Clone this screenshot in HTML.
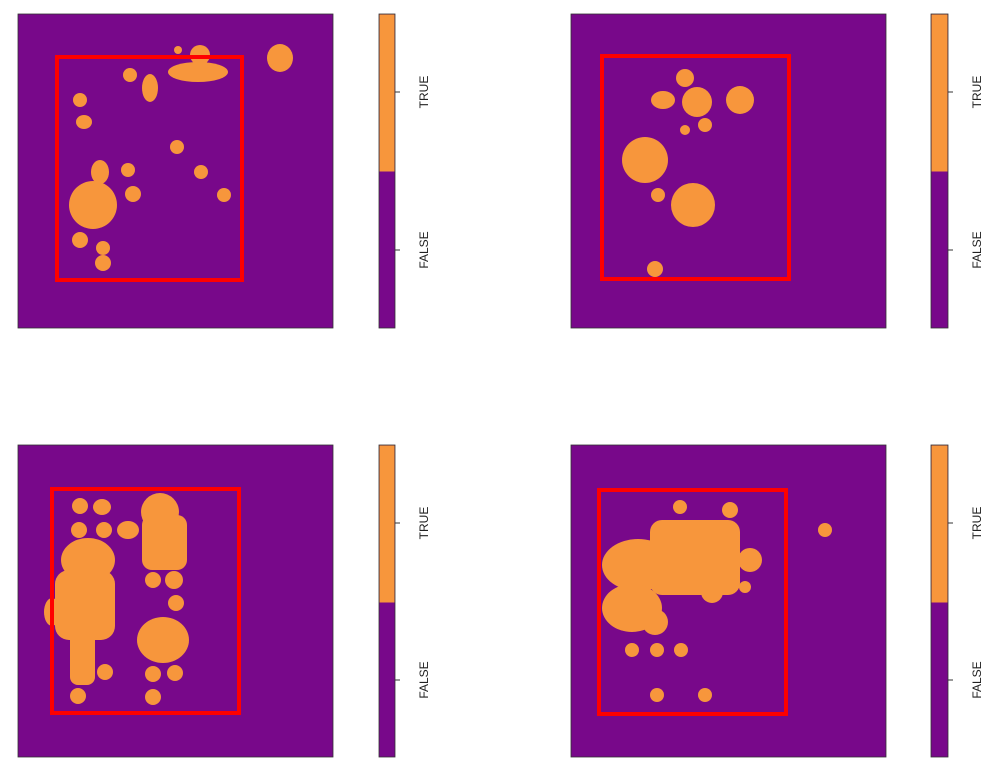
<!DOCTYPE html>
<html><head><style>body{margin:0;background:#fff}svg{display:block}</style></head><body>
<svg width="1000" height="772" xmlns="http://www.w3.org/2000/svg" font-family="Liberation Sans, sans-serif" font-size="12">
<g fill="#78088a" stroke="#333" stroke-width="0.8">
<rect x="18" y="14" width="315" height="314"/>
<rect x="571" y="14" width="315" height="314"/>
<rect x="18" y="445" width="315" height="312"/>
<rect x="571" y="445" width="315" height="312"/>
<rect x="379" y="14" width="16" height="314"/>
<rect x="931" y="14" width="17" height="314"/>
<rect x="379" y="445" width="16" height="312"/>
<rect x="931" y="445" width="17" height="312"/>
</g>
<g fill="#f7963c">
<rect x="379.5" y="14.5" width="15" height="157"/>
<rect x="931.5" y="14.5" width="16" height="157"/>
<rect x="379.5" y="445.5" width="15" height="157"/>
<rect x="931.5" y="445.5" width="16" height="157"/>
<!-- panel 1 -->
<circle cx="93" cy="205" r="24"/><ellipse cx="100" cy="172" rx="9" ry="12"/>
<circle cx="80" cy="100" r="7"/><ellipse cx="84" cy="122" rx="8" ry="7"/><circle cx="130" cy="75" r="7"/>
<circle cx="177" cy="147" r="7"/><circle cx="201" cy="172" r="7"/><circle cx="224" cy="195" r="7"/>
<circle cx="128" cy="170" r="7"/><circle cx="133" cy="194" r="8"/><circle cx="80" cy="240" r="8"/>
<circle cx="103" cy="248" r="7"/><circle cx="103" cy="263" r="8"/>
<ellipse cx="150" cy="88" rx="8" ry="14"/><ellipse cx="198" cy="72" rx="30" ry="10"/><circle cx="200" cy="55" r="10"/>
<circle cx="178" cy="50" r="4"/><ellipse cx="280" cy="58" rx="13" ry="14"/>
<!-- panel 2 -->
<circle cx="645" cy="160" r="23"/><circle cx="685" cy="78" r="9"/><ellipse cx="663" cy="100" rx="12" ry="9"/>
<circle cx="697" cy="102" r="15"/><circle cx="740" cy="100" r="14"/><circle cx="705" cy="125" r="7"/>
<circle cx="693" cy="205" r="22"/><circle cx="658" cy="195" r="7"/><circle cx="655" cy="269" r="8"/><circle cx="685" cy="130" r="5"/>
<!-- panel 3 -->
<circle cx="80" cy="506" r="8"/><ellipse cx="102" cy="507" rx="9" ry="8"/><circle cx="79" cy="530" r="8"/><circle cx="104" cy="530" r="8"/>
<ellipse cx="88" cy="560" rx="27" ry="22"/><rect x="55" y="570" width="60" height="70" rx="14"/><ellipse cx="52" cy="612" rx="8" ry="14"/>
<rect x="70" y="630" width="25" height="55" rx="8"/><circle cx="105" cy="672" r="8"/><circle cx="78" cy="696" r="8"/>
<circle cx="160" cy="512" r="19"/><rect x="142" y="515" width="45" height="55" rx="10"/><ellipse cx="128" cy="530" rx="11" ry="9"/>
<circle cx="153" cy="580" r="8"/><circle cx="174" cy="580" r="9"/><circle cx="176" cy="603" r="8"/>
<ellipse cx="163" cy="640" rx="26" ry="23"/><circle cx="153" cy="674" r="8"/><circle cx="175" cy="673" r="8"/><circle cx="153" cy="697" r="8"/>
<!-- panel 4 -->
<circle cx="680" cy="507" r="7"/><circle cx="730" cy="510" r="8"/><circle cx="825" cy="530" r="7"/>
<ellipse cx="638" cy="565" rx="36" ry="26"/><ellipse cx="632" cy="608" rx="30" ry="24"/>
<rect x="650" y="520" width="90" height="75" rx="12"/><circle cx="722" cy="535" r="15"/><circle cx="750" cy="560" r="12"/>
<circle cx="712" cy="592" r="11"/><circle cx="655" cy="622" r="13"/><circle cx="745" cy="587" r="6"/>
<circle cx="632" cy="650" r="7"/><circle cx="657" cy="650" r="7"/><circle cx="681" cy="650" r="7"/>
<circle cx="657" cy="695" r="7"/><circle cx="705" cy="695" r="7"/>
</g>
<g fill="none" stroke="#f00" stroke-width="4">
<rect x="57" y="57" width="185" height="223"/>
<rect x="602" y="56" width="187" height="223"/>
<rect x="52" y="489" width="187" height="224"/>
<rect x="599" y="490" width="187" height="224"/>
</g>
<g stroke="#333"><line x1="395" y1="92" x2="400" y2="92"/><line x1="395" y1="250" x2="400" y2="250"/>
<line x1="948" y1="92" x2="953" y2="92"/><line x1="948" y1="250" x2="953" y2="250"/>
<line x1="395" y1="523" x2="400" y2="523"/><line x1="395" y1="680" x2="400" y2="680"/>
<line x1="948" y1="523" x2="953" y2="523"/><line x1="948" y1="680" x2="953" y2="680"/></g>
<g fill="#222" text-anchor="middle">
<text transform="translate(428,92) rotate(-90)">TRUE</text><text transform="translate(428,250) rotate(-90)">FALSE</text>
<text transform="translate(981,92) rotate(-90)">TRUE</text><text transform="translate(981,250) rotate(-90)">FALSE</text>
<text transform="translate(428,523) rotate(-90)">TRUE</text><text transform="translate(428,680) rotate(-90)">FALSE</text>
<text transform="translate(981,523) rotate(-90)">TRUE</text><text transform="translate(981,680) rotate(-90)">FALSE</text>
</g>
</svg>
</body></html>
